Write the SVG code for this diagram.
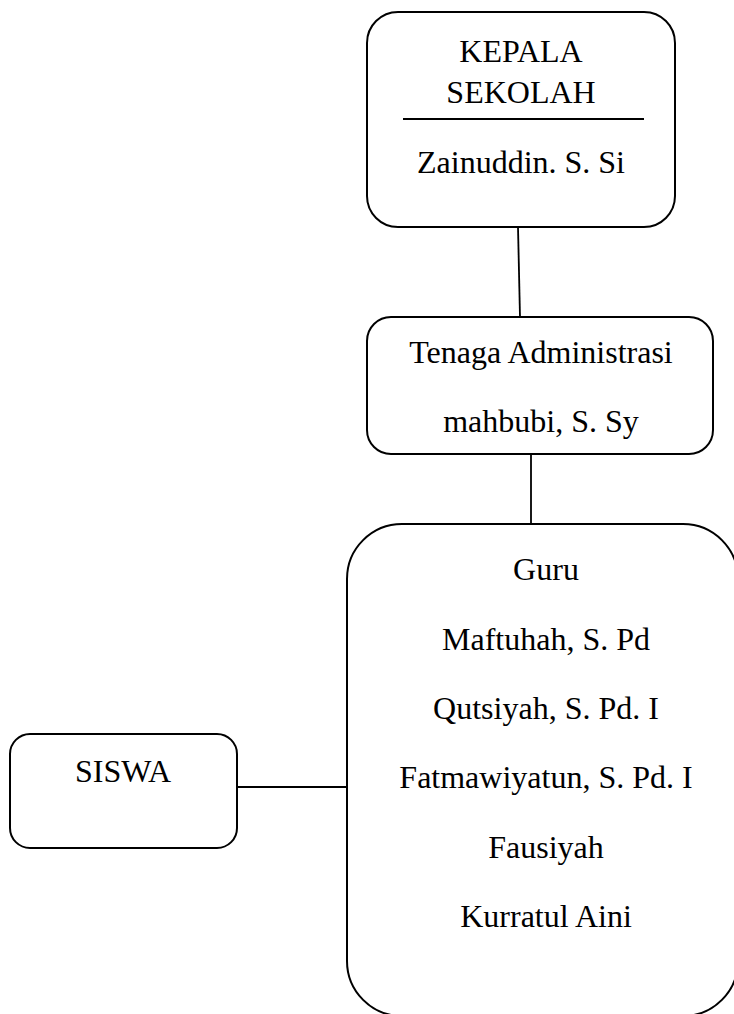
<svg xmlns="http://www.w3.org/2000/svg" width="734" height="1014" viewBox="0 0 734 1014">
<style>
.box{fill:#fff;stroke:#000;stroke-width:2}
.t{font-family:"Liberation Serif","Times New Roman",serif;font-size:32px;fill:#000;text-anchor:middle}
.c{stroke:#000;stroke-width:1.8;fill:none}
</style>
<rect width="734" height="1014" fill="#fff"/>
<g id="connectors">
<line class="c" x1="518" y1="227" x2="520" y2="317"/>
<line class="c" x1="531" y1="454" x2="531" y2="524"/>
<line class="c" x1="236" y1="787" x2="347" y2="787"/>
</g>
<g id="kepala">
<rect class="box" x="367" y="12" width="308" height="215" rx="31" ry="31"/>
<text class="t" x="521" y="62">KEPALA</text>
<text class="t" x="521" y="103">SEKOLAH</text>
<line x1="403" y1="119" x2="644" y2="119" stroke="#000" stroke-width="1.8"/>
<text class="t" x="521" y="173">Zainuddin. S. Si</text>
</g>
<g id="tenaga">
<rect class="box" x="367" y="317" width="346" height="137" rx="24" ry="24"/>
<text class="t" x="541" y="363">Tenaga Administrasi</text>
<text class="t" x="541" y="432">mahbubi, S. Sy</text>
</g>
<g id="guru">
<rect class="box" x="347" y="524" width="391" height="492" rx="55" ry="55"/>
<text class="t" x="546" y="580">Guru</text>
<text class="t" x="546" y="650">Maftuhah, S. Pd</text>
<text class="t" x="546" y="719">Qutsiyah, S. Pd. I</text>
<text class="t" x="546" y="788">Fatmawiyatun, S. Pd. I</text>
<text class="t" x="546" y="858">Fausiyah</text>
<text class="t" x="546" y="927">Kurratul Aini</text>
</g>
<g id="siswa">
<rect class="box" x="10" y="734" width="227" height="114" rx="20" ry="20"/>
<text class="t" x="123" y="782">SISWA</text>
</g>
</svg>
